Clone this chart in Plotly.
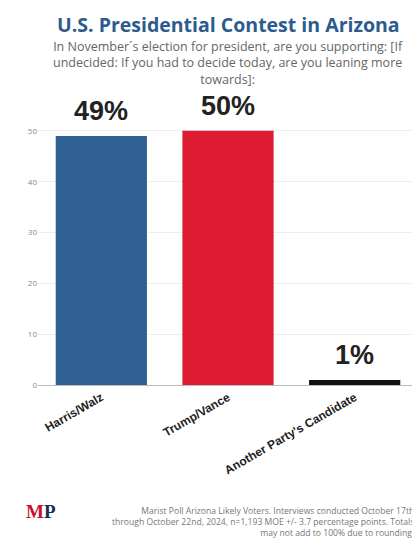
import plotly.graph_objects as go

categories = ["Harris/Walz", "Trump/Vance", "Another Party's Candidate"]
values = [49, 50, 1]
labels = ["49%", "50%", "1%"]
colors = ["#2f6094", "#dc1a32", "#111111"]

T, B = 100, 164
fig = go.Figure(go.Bar(
    x=categories, y=values, marker_color=colors, marker_line_width=0,
    cliponaxis=False,
))
for c, v, t in zip(categories, values, labels):
    fig.add_annotation(x=c, y=v, text="<b>" + t + "</b>", showarrow=False, yanchor="bottom", yshift=8,
                       font=dict(family="Liberation Sans", size=27, color="#222222"))
fig.update_layout(
    width=420, height=541, paper_bgcolor="white", plot_bgcolor="white",
    margin=dict(l=30, r=10, t=T, b=B),
    bargap=0.28, showlegend=False,
    xaxis=dict(tickangle=-30, tickfont=dict(family="Liberation Sans", size=12, color="#222"),
               showline=True, linecolor="#bbbbbb", ticks="", tickprefix="<b>", ticksuffix="</b>"),
    yaxis=dict(range=[0, 54.5], tickvals=[0, 10, 20, 30, 40, 50],
               tickfont=dict(size=8, color="#888"), gridcolor="#eeeeee", zeroline=False),
)
H = 541 - T - B
A = fig.add_annotation
A(text="<b>U.S. Presidential Contest in Arizona</b>", x=0.5, xref="paper", y=1 + (T - 16) / H, yref="paper",
  showarrow=False, font=dict(size=19.5, color="#2c5b8e", family="Open Sans"), yanchor="middle")
A(text="In November´s election for president, are you supporting: [If<br>undecided: If you had to decide today, are you leaning more<br>towards]:",
  x=0.5, xref="paper", y=1 + (T - 55) / H, yref="paper", showarrow=False, yanchor="middle",
  font=dict(size=12.5, color="#666", family="Open Sans"))
A(text="Marist Poll Arizona Likely Voters. Interviews conducted October 17th<br>through October 22nd, 2024, n=1,193 MOE +/- 3.7 percentage points. Totals<br>may not add to 100% due to rounding.",
  x=(408 - 30) / 380, xref="paper", y=-(514 - (541 - B)) / H, yref="paper", showarrow=False, align="right",
  xanchor="right", yanchor="middle", font=dict(size=8.6, color="#777", family="Open Sans"))
A(text="<b><span style='color:#c8102e'>M</span><span style='color:#1c2a5a'>P</span></b>", x=(16 - 30) / 380, xref="paper",
  xanchor="left", y=-(503 - (541 - B)) / H, yref="paper", showarrow=False, yanchor="middle",
  font=dict(size=19, family="Liberation Serif"))
fig.write_html("out.html")
